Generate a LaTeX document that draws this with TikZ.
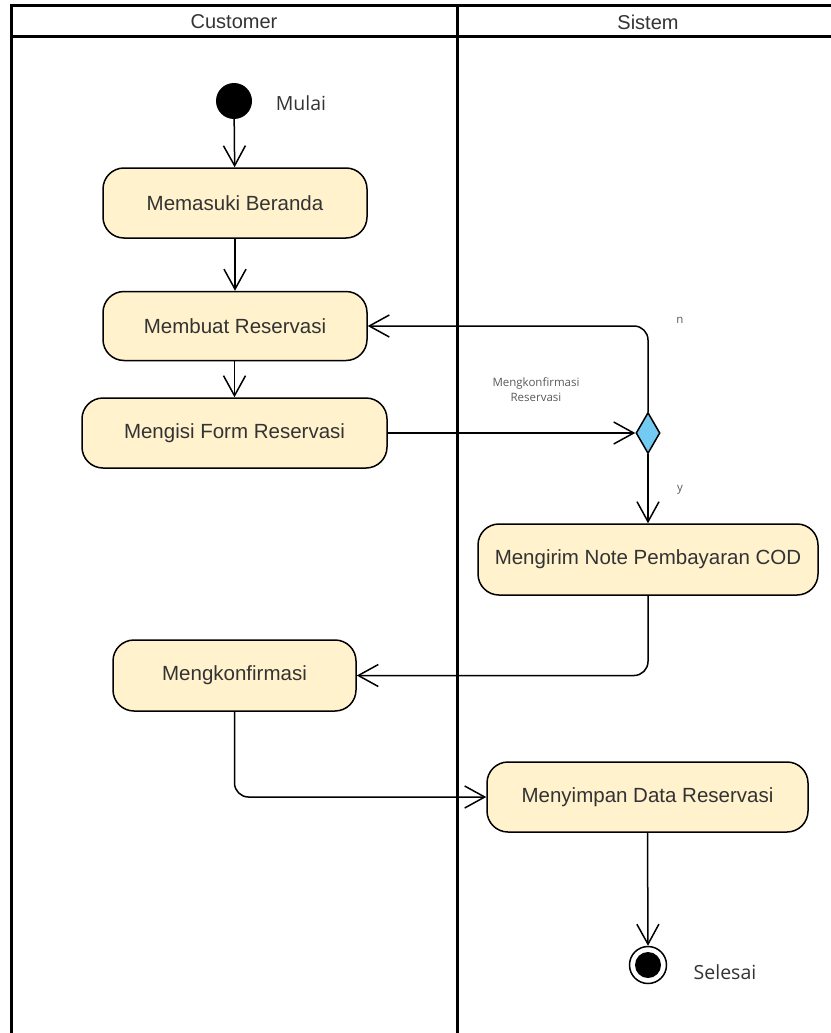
\documentclass[tikz,border=0pt]{standalone}
\usepackage{fontspec}
\setmainfont{Liberation Sans}
\newfontfamily\labelfont{Open Sans}
\usetikzlibrary{arrows.meta,shapes.geometric}
\definecolor{boxfill}{HTML}{FFF2CC}
\definecolor{diafill}{HTML}{74CBF2}
\definecolor{txt}{HTML}{333333}
\begin{document}
\begin{tikzpicture}[x=1pt,y=-1pt,
  act/.style={draw=black, line width=1.5pt, fill=boxfill, rounded corners=21pt,
    minimum height=70pt, text=txt, font=\fontsize{20.5}{24}\selectfont, inner sep=0pt},
  flow/.style={draw=black, line width=1.5pt, -{Straight Barb[length=20pt,width=22pt,line width=1.5pt]}, rounded corners=14pt},
  lane/.style={draw=black, line width=3pt},
  small/.style={text=black!65, font=\labelfont\fontsize{11.5}{15}\selectfont, align=center},
  endlabel/.style={text=txt, font=\labelfont\fontsize{19.5}{23}\selectfont}
]
\useasboundingbox (0,0) rectangle (830,1033);
% swimlanes
\draw[lane] (11,1040) -- (11,6) -- (840,6);
\draw[lane] (11,37) -- (840,37);
\draw[lane] (457,6) -- (457,1040);
\node[text=txt, font=\fontsize{20}{24}\selectfont] (h1) at (234,22) {Customer};
\node[text=txt, font=\fontsize{20}{24}\selectfont] (h2) at (648,22) {Sistem};

% nodes
\node[circle, fill=black, minimum size=36pt, inner sep=0pt] (start) at (234,101) {};
\node[endlabel] (mulai) at (301,103) {Mulai};
\node[act, minimum width=264pt] (b1) at (235,203) {Memasuki Beranda};
\node[act, minimum width=264pt, minimum height=69pt] (b2) at (235,326) {Membuat Reservasi};
\node[act, minimum width=305pt] (b3) at (234.5,433) {Mengisi Form Reservasi};
\node[diamond, draw=black, line width=1.5pt, fill=diafill, minimum width=24pt, minimum height=41pt, inner sep=0pt] (d) at (648,433) {};
\node[act, minimum width=340pt, minimum height=71pt] (b4) at (648,559.5) {Mengirim Note Pembayaran COD};
\node[act, minimum width=243pt, minimum height=71pt] (b5) at (234.5,675.5) {Mengkonfirmasi};
\node[act, minimum width=321pt] (b6) at (647.5,797) {Menyimpan Data Reservasi};
\node[circle, draw=black, line width=1.5pt, fill=white, minimum size=37pt, inner sep=0pt] (end) at (648,965) {};
\node[circle, fill=black, minimum size=26pt, inner sep=0pt] (endin) at (end.center) {};
\node[endlabel] (selesai) at (725,972) {Selesai};

% labels
\node[small] (lblk) at (536,390) {Mengkonfirmasi\\Reservasi};
\node[small] (lbln) at (680,320) {n};
\node[small] (lbly) at (680,490) {y};

% connectors
\draw[flow] (start) -- (b1);
\draw[flow] (b1) -- (b2);
\draw[flow] (b2.south -| b3.north) -- (b3.north);
\draw[flow] (b3.east) -- (d.west);
\draw[flow] (d.north) |- (b2.east);
\draw[flow] (d.south) -- (b4.north);
\draw[flow] (b4.south) |- (b5.east);
\draw[flow] (b5.south) |- (b6.west);
\draw[flow] (b6.south) -- (end.north);
\end{tikzpicture}
\end{document}
